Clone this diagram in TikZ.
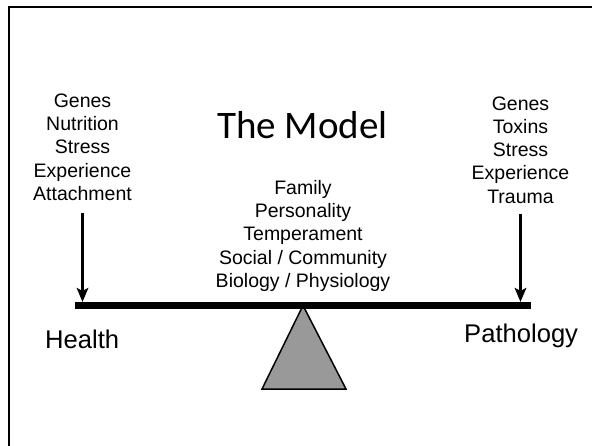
\documentclass[tikz,border=0pt]{standalone}
\usepackage{fontspec}
\setmainfont{Liberation Sans}
\newfontfamily\titlefont{Carlito}
\usepackage{tikz}
\usetikzlibrary{arrows.meta}
\usetikzlibrary{positioning}

\tikzset{
  factors/.style={align=center, inner sep=0pt, anchor=base,
    font=\fontsize{19.5}{23.3}\selectfont},
  side/.style={inner sep=0pt, anchor=base west, font=\fontsize{25.6}{30}\selectfont},
  push/.style={line width=3pt, -{Stealth[length=14pt, width=11.5pt, inset=3pt]}, shorten >=3.5pt},
}

\begin{document}
\begin{tikzpicture}[x=1pt, y=-1pt]
    \useasboundingbox (0,0) rectangle (592,445);
    \clip (0,0) rectangle (592,445);
    \fill[white] (0,0) rectangle (592,445);
    \draw[line width=2.5pt] (9,7) rectangle (610,470);

    \node[inner sep=0pt, anchor=base, font=\titlefont\fontsize{39}{45}\selectfont] (title) at (302.5,138) {The Model};

    % lists are placed by the baseline of their last line
    \node[factors] (leftlist) at (82.5,200.5) {Genes\\Nutrition\\Stress\\Experience\\Attachment};
    \node[factors] (rightlist) at (520.5,203.2) {Genes\\Toxins\\Stress\\Experience\\Trauma};
    \node[factors] (midlist) at (303,287.5) {Family\\Personality\\Temperament\\Social / Community\\Biology / Physiology};

    % seesaw
    \coordinate (beamL) at (75,305.5);
    \coordinate (beamR) at (531,305.5);
    \coordinate (pivot) at (303,305.5);
    \draw[line width=1.5pt, fill=black!40, line join=miter] (pivot) -- (262,389) -- (346,389) -- cycle;
    \draw[line width=6.5pt] (beamL) -- (beamR);

    \draw[push] ([yshift=-12pt]leftlist.south) -- (leftlist.south |- beamL);
    \draw[push] ([yshift=-10pt]rightlist.south) -- (rightlist.south |- beamR);

    \node[side] (health) at (45,348) {Health};
    \node[side] (pathology) at (464,342.7) {Pathology};
\end{tikzpicture}
\end{document}
